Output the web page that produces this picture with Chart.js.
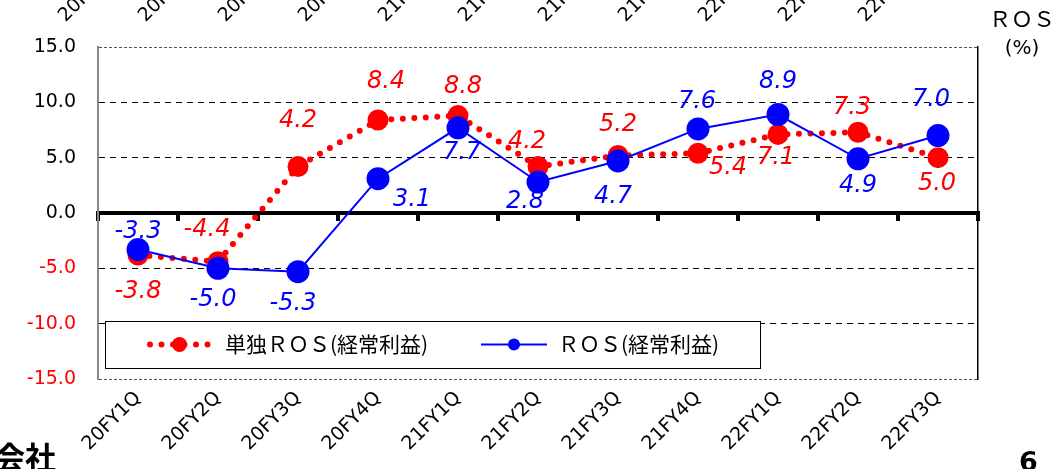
<!DOCTYPE html>
<html>
<head>
<meta charset="utf-8">
<script src="https://cdn.jsdelivr.net/npm/chart.js@4.4.0/dist/chart.umd.min.js"></script>
<style>
  html, body { margin: 0; padding: 0; background: #fff; overflow: hidden; }
  #wrap { position: relative; width: 1056px; height: 469px; }
</style>
</head>
<body>
<div id="wrap"><canvas id="rosChart" width="1056" height="469"></canvas></div>
<script>
// Data
const categories = ['20FY1Q', '20FY2Q', '20FY3Q', '20FY4Q', '21FY1Q', '21FY2Q', '21FY3Q', '21FY4Q', '22FY1Q', '22FY2Q', '22FY3Q'];
const singleRos = [-3.8, -4.4, 4.2, 8.4, 8.8, 4.2, 5.2, 5.4, 7.1, 7.3, 5.0];
const consolidatedRos = [-3.3, -5.0, -5.3, 3.1, 7.7, 2.8, 4.7, 7.6, 8.9, 4.9, 7.0];
const yMin = -15;
const yMax = 15;
const yStep = 5;

// Label placement (px from the point), matches where the slide put them
const redLabelShift = [[0, 37], [-11, -32], [0, -46], [8, -38], [5, -29], [-11, -25], [0, -31], [30, 15], [-2, 23], [-6, -24], [-1, 26]];
const blueLabelShift = [[0, -18], [-5, 31], [-5, 32], [34, 21], [4, 25], [-13, 20], [-5, 36], [-1, -27], [0, -33], [0, 27], [-7, -36]];

const RED = '#ff0000';
const BLUE = '#0000ff';
const FONT = '"DejaVu Sans", Verdana, sans-serif';
const JP = '"Noto Sans CJK JP", "Noto Sans", sans-serif';

const chartCanvas = document.getElementById('rosChart');

// value labels next to each point
const valueLabels = {
    id: 'valueLabels',
    afterDatasetsDraw(chart) {
        const ctx = chart.ctx;
        const shifts = [redLabelShift, blueLabelShift];
        ctx.save();
        ctx.font = 'italic 24px ' + FONT;
        ctx.textAlign = 'center';
        ctx.textBaseline = 'middle';
        chart.data.datasets.forEach((ds, di) => {
            const meta = chart.getDatasetMeta(di);
            ctx.fillStyle = ds.borderColor;
            meta.data.forEach((pt, i) => {
                const s = shifts[di][i];
                ctx.fillText(ds.data[i].toFixed(1), pt.x + s[0], pt.y + s[1]);
            });
        });
        ctx.restore();
    }
};

// boxed legend sitting inside the plot, bottom left
const boxLegend = {
    id: 'boxLegend',
    afterDatasetsDraw(chart) {
        const ctx = chart.ctx;
        const area = chart.chartArea;
        const bx = area.left + 7, by = 321, bw = 655, bh = 47;
        const cy = by + bh / 2;
        ctx.save();
        ctx.fillStyle = '#fff';
        ctx.fillRect(bx, by, bw, bh);
        ctx.strokeStyle = '#000';
        ctx.lineWidth = 1;
        ctx.strokeRect(bx + 0.5, by + 0.5, bw, bh);

        const items = [
            { ds: chart.data.datasets[0], x0: 150, x1: 209, tx: 225 },
            { ds: chart.data.datasets[1], x0: 481, x1: 547, tx: 558 }
        ];
        items.forEach(it => {
            const ds = it.ds;
            ctx.strokeStyle = ds.borderColor;
            ctx.lineWidth = ds.borderDash ? 6 : 2;
            ctx.lineCap = ds.borderDash ? 'round' : 'butt';
            ctx.setLineDash(ds.borderDash ? [0, 11.5] : []);
            ctx.beginPath();
            ctx.moveTo(it.x0, cy);
            ctx.lineTo(it.x1, cy);
            ctx.stroke();
            ctx.setLineDash([]);
            ctx.fillStyle = ds.borderColor;
            ctx.beginPath();
            ctx.arc((it.x0 + it.x1) / 2, cy, ds.borderDash ? 7.5 : 6, 0, Math.PI * 2);
            ctx.fill();
            ctx.fillStyle = '#000';
            ctx.font = '21px ' + JP;
            ctx.textAlign = 'left';
            ctx.textBaseline = 'middle';
            ctx.fillText(ds.label, it.tx, cy);
        });
        ctx.restore();
    }
};

// slide leftovers: axis labels of the chart above, unit title, page bits
const slideText = {
    id: 'slideText',
    afterDraw(chart) {
        const ctx = chart.ctx;
        const xs = chart.scales.x;
        ctx.save();
        ctx.fillStyle = '#000';
        ctx.font = '19px ' + FONT;
        ctx.textAlign = 'left';
        ctx.textBaseline = 'middle';
        categories.forEach((c, i) => {
            ctx.save();
            ctx.translate(xs.getPixelForValue(i) - 76, 19);
            ctx.rotate(-Math.PI / 4);
            ctx.fillText(c, 0, 0);
            ctx.restore();
        });

        ctx.textAlign = 'center';
        ctx.font = '22px ' + JP;
        ctx.fillText('ＲＯＳ', 1022, 19);
        ctx.font = '20px ' + FONT;
        ctx.fillText('(%)', 1022, 49);

        ctx.textAlign = 'left';
        ctx.textBaseline = 'alphabetic';
        ctx.font = 'bold 31px ' + JP;
        ctx.fillText('会社', -6, 469);
        ctx.font = 'bold 27px ' + FONT;
        ctx.fillText('6', 1019, 471);
        ctx.restore();
    }
};

new Chart(chartCanvas, {
    type: 'line',
    data: {
        labels: categories,
        datasets: [{
            label: '単独ＲＯＳ(経常利益)',
            data: singleRos,
            borderColor: RED,
            backgroundColor: RED,
            borderWidth: 6,
            borderDash: [0, 11.5],
            borderCapStyle: 'round',
            pointRadius: 10.5,
            pointBorderWidth: 0,
            pointBackgroundColor: RED,
            tension: 0,
            order: 1
        }, {
            label: 'ＲＯＳ(経常利益)',
            data: consolidatedRos,
            borderColor: BLUE,
            backgroundColor: BLUE,
            borderWidth: 2,
            pointRadius: 11.5,
            pointBorderWidth: 0,
            pointBackgroundColor: BLUE,
            tension: 0,
            order: 0
        }]
    },
    options: {
        responsive: false,
        animation: false,
        events: [],
        layout: { padding: { top: 47, right: 78, left: 0, bottom: 0 } },
        plugins: {
            legend: { display: false },
            tooltip: { enabled: false }
        },
        scales: {
            x: {
                type: 'category',
                position: 'bottom',
                offset: true,
                grid: { display: false },
                border: { display: false },
                ticks: {
                    autoSkip: false,
                    minRotation: 45,
                    maxRotation: 45,
                    padding: 0,
                    color: '#000',
                    font: { family: FONT, size: 19 }
                },
                afterFit: s => { s.height = 90; }
            },
            // zero line with its tick marks
            x0: {
                type: 'category',
                position: { y: 0 },
                offset: true,
                grid: {
                    offset: true,
                    drawOnChartArea: false,
                    drawTicks: true,
                    tickLength: 6,
                    lineWidth: 4,
                    color: '#000'
                },
                border: { display: true, color: '#000', width: 4 },
                ticks: { display: false }
            },
            y: {
                min: yMin,
                max: yMax,
                position: 'left',
                ticks: {
                    stepSize: yStep,
                    padding: 22,
                    color: c => c.tick.value < 0 ? RED : '#000',
                    font: { family: FONT, size: 19 },
                    callback: v => v.toFixed(1)
                },
                grid: {
                    drawTicks: false,
                    lineWidth: 1,
                    color: c => (c.tick && c.tick.value === 0) ? 'rgba(0,0,0,0)' : (c.tick && Math.abs(c.tick.value) === 15 ? '#555' : '#000')
                },
                border: {
                    display: true,
                    color: '#888',
                    width: 2,
                    dash: c => {
                        if (!c.tick) return [];
                        return Math.abs(c.tick.value) === 15 ? [3, 2] : [6, 5];
                    }
                },
                afterFit: s => { s.width = 98; }
            },
            yR: {
                min: yMin,
                max: yMax,
                position: 'right',
                grid: { display: false, drawTicks: false },
                ticks: { display: false },
                border: { display: true, color: '#000', width: 1.5 },
                afterFit: s => { s.width = 0; }
            }
        }
    },
    plugins: [valueLabels, boxLegend, slideText]
});
</script>
</body>
</html>
